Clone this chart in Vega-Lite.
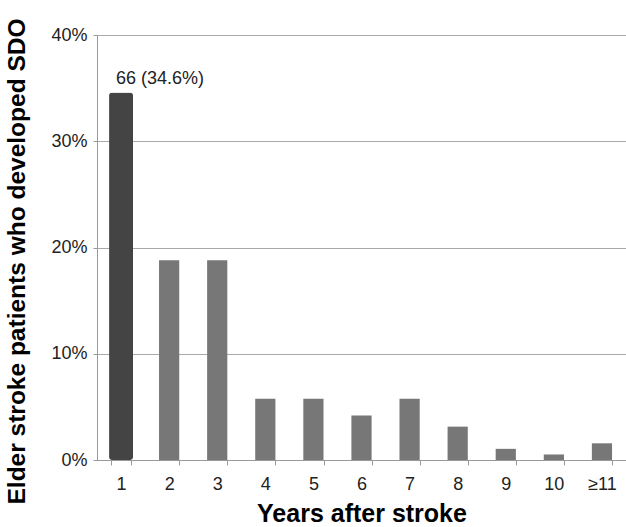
{
  "$schema": "https://vega.github.io/schema/vega-lite/v6.json",
  "width": 529,
  "height": 425,
  "autosize": {"type": "none"},
  "padding": {"left": 97, "top": 35, "right": 0, "bottom": 67},
  "background": "white",
  "config": {"view": {"stroke": null}, "font": "Liberation Sans"},
  "data": {
    "values": [
      {"year": "1", "n": 66, "pct": 0.346, "label": "66 (34.6%)", "hi": "yes"},
      {"year": "2", "n": 36, "pct": 0.188, "label": "", "hi": "no"},
      {"year": "3", "n": 36, "pct": 0.188, "label": "", "hi": "no"},
      {"year": "4", "n": 11, "pct": 0.0576, "label": "", "hi": "no"},
      {"year": "5", "n": 11, "pct": 0.0576, "label": "", "hi": "no"},
      {"year": "6", "n": 8, "pct": 0.0419, "label": "", "hi": "no"},
      {"year": "7", "n": 11, "pct": 0.0576, "label": "", "hi": "no"},
      {"year": "8", "n": 6, "pct": 0.0314, "label": "", "hi": "no"},
      {"year": "9", "n": 2, "pct": 0.0105, "label": "", "hi": "no"},
      {"year": "10", "n": 1, "pct": 0.0052, "label": "", "hi": "no"},
      {"year": "≥11", "n": 3, "pct": 0.0157, "label": "", "hi": "no"}
    ]
  },
  "encoding": {
    "x": {
      "field": "year",
      "type": "ordinal",
      "scale": {"domain": ["1", "2", "3", "4", "5", "6", "7", "8", "9", "10", "≥11"], "paddingInner": 0.58, "paddingOuter": 0.29},
      "axis": {
        "title": "Years after stroke",
        "titleFont": "Liberation Sans",
        "titleFontSize": 25,
        "titleFontWeight": "bold",
        "titleColor": "#000",
        "titlePadding": 8,
        "labelAngle": 0,
        "labelFont": "Liberation Sans",
        "labelFontSize": 18,
        "labelColor": "#222",
        "labelPadding": 10,
        "domainColor": "#999",
        "tickColor": "#999",
        "tickSize": 5,
        "tickBand": "extent",
        "grid": false
      }
    },
    "y": {
      "field": "pct",
      "type": "quantitative",
      "scale": {"domain": [0, 0.4], "nice": false},
      "axis": {
        "title": "Elder stroke patients who developed SDO",
        "titleFont": "Liberation Sans",
        "titleFontSize": 24.5,
        "titleFontWeight": "bold",
        "titleColor": "#000",
        "titleX": -68,
        "titleY": 226,
        "values": [0, 0.1, 0.2, 0.3, 0.4],
        "format": ".0%",
        "labelFont": "Liberation Sans",
        "labelFontSize": 18,
        "labelColor": "#222",
        "labelPadding": 6,
        "domainColor": "#999",
        "tickColor": "#999",
        "tickSize": 4,
        "grid": true,
        "gridColor": "#aaa"
      }
    }
  },
  "layer": [
    {
      "transform": [{"filter": "datum.hi == 'no'"}],
      "mark": {"type": "bar", "color": "#777777"}
    },
    {
      "transform": [{"filter": "datum.hi == 'yes'"}],
      "mark": {"type": "bar", "color": "#444444", "cornerRadius": 3, "width": 24}
    },
    {
      "transform": [{"filter": "datum.hi == 'yes'"}],
      "mark": {"type": "text", "align": "left", "baseline": "bottom", "dx": -5, "dy": -4, "fontSize": 18, "font": "Liberation Sans", "color": "#222"},
      "encoding": {"text": {"field": "label"}}
    }
  ]
}
